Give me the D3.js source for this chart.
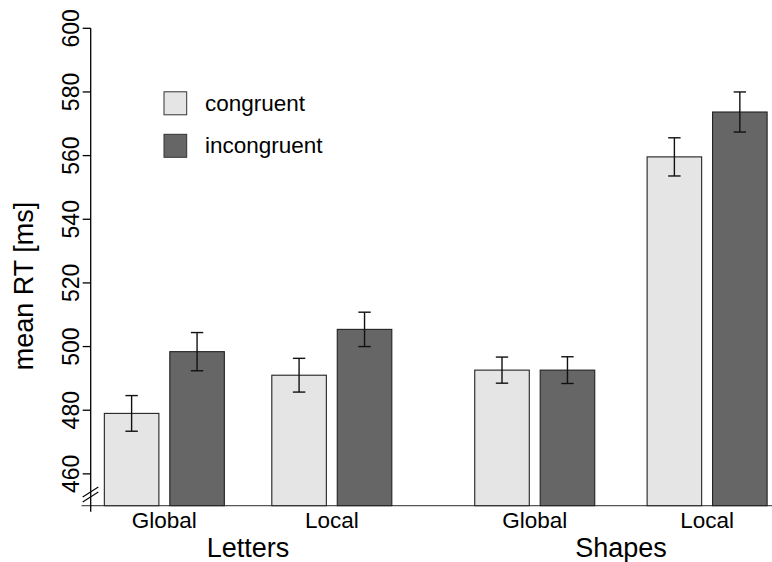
<!DOCTYPE html>
<html>
<head>
<meta charset="utf-8">
<script src="https://cdn.jsdelivr.net/npm/d3@7"></script>
<style>
  html, body { margin: 0; padding: 0; background: #fff; }
  svg text { font-family: "Liberation Sans", Arial, Helvetica, sans-serif; fill: #000; }
</style>
</head>
<body>
<svg id="chart" width="772" height="562"></svg>
<script>
// Mean reaction times per task, level and congruency
const blocks = ["Letters", "Shapes"];
const levels = ["Global", "Local", "Global", "Local"];
const conditions = ["congruent", "incongruent"];
const congruentRT = [479.0, 491.0, 492.6, 559.6];
const incongruentRT = [498.4, 505.4, 492.6, 573.7];
const congruentErr = [5.6, 5.3, 4.1, 6.0];
const incongruentErr = [6.0, 5.4, 4.2, 6.3];
const yTicks = [460, 480, 500, 520, 540, 560, 580, 600];

const colors = { congruent: "#e5e5e5", incongruent: "#666666" };

const svg = d3.select("#chart");

// y scale: axis is broken below 460, bars start from 450
const y = d3.scaleLinear().domain([450, 600]).range([505.7, 28.3]);

// x layout in bar-width units (barplot-like spacing)
const groupSpace = [0.25, 0.87, 1.52, 0.96];
const innerSpace = 0.2;
const bars = [];
let pos = 0;
levels.forEach((lv, i) => {
  pos += groupSpace[i];
  bars.push({ group: i, cond: "congruent", left: pos, value: congruentRT[i], err: congruentErr[i] });
  pos += 1 + innerSpace;
  bars.push({ group: i, cond: "incongruent", left: pos, value: incongruentRT[i], err: incongruentErr[i] });
  pos += 1;
});
const x = d3.scaleLinear().domain([0, 1]).range([90.7, 90.7 + 54.55]);
const bw = x(1) - x(0);

// baseline
svg.append("line")
  .attr("x1", 81.5).attr("x2", 772)
  .attr("y1", y(450)).attr("y2", y(450))
  .attr("stroke", "#555").attr("stroke-width", 1.3);

// bars
svg.append("g").selectAll("rect").data(bars).join("rect")
  .attr("x", d => x(d.left))
  .attr("y", d => y(d.value))
  .attr("width", bw)
  .attr("height", d => y(450) - y(d.value))
  .attr("fill", d => colors[d.cond])
  .attr("stroke", "#222")
  .attr("stroke-width", 1.1);

// error bars
const eg = svg.append("g").attr("stroke", "#111").attr("stroke-width", 1.4);
bars.forEach(d => {
  const cx = x(d.left + 0.5);
  eg.append("line").attr("x1", cx).attr("x2", cx).attr("y1", y(d.value - d.err)).attr("y2", y(d.value + d.err));
  [d.value - d.err, d.value + d.err].forEach(v => {
    eg.append("line").attr("x1", cx - 6.2).attr("x2", cx + 6.2).attr("y1", y(v)).attr("y2", y(v));
  });
});

// y axis
const ax = svg.append("g").attr("transform", "translate(90.7,0)");
ax.append("line").attr("x1", 0).attr("x2", 0).attr("y1", y(600)).attr("y2", 511.7)
  .attr("stroke", "#000").attr("stroke-width", 1.3);
yTicks.forEach(t => {
  ax.append("line").attr("x1", -8).attr("x2", 0).attr("y1", y(t)).attr("y2", y(t))
    .attr("stroke", "#000").attr("stroke-width", 1.3);
  ax.append("text")
    .attr("transform", `translate(-12,${y(t)}) rotate(-90)`)
    .attr("text-anchor", "middle")
    .attr("font-size", 23)
    .text(t);
});

// axis break marks
const bk = svg.append("g").attr("stroke", "#000").attr("stroke-width", 1.1);
[0, 5].forEach(off => {
  bk.append("line").attr("x1", 82.7).attr("y1", 497 + off).attr("x2", 98.3).attr("y2", 487 + off);
});

// y axis title
svg.append("text")
  .attr("transform", "translate(33,286) rotate(-90)")
  .attr("text-anchor", "middle")
  .attr("font-size", 27)
  .text("mean RT [ms]");

// level labels under each pair
levels.forEach((lv, i) => {
  const b0 = bars[i * 2], b1 = bars[i * 2 + 1];
  svg.append("text")
    .attr("x", (x(b0.left) + x(b1.left + 1)) / 2)
    .attr("y", 528.3)
    .attr("text-anchor", "middle")
    .attr("font-size", 22.5)
    .text(lv);
});

// block labels
blocks.forEach((bl, j) => {
  const first = bars[j * 4], last = bars[j * 4 + 3];
  svg.append("text")
    .attr("x", (x(first.left) + x(last.left + 1)) / 2)
    .attr("y", 556.5)
    .attr("text-anchor", "middle")
    .attr("font-size", 27)
    .text(bl);
});

// legend
const lg = svg.append("g");
conditions.forEach((c, i) => {
  const cy = 103.3 + i * 42.5;
  lg.append("rect")
    .attr("x", 164).attr("y", cy - 11.5).attr("width", 22.7).attr("height", 23)
    .attr("fill", colors[c]).attr("stroke", "#333").attr("stroke-width", 1);
  lg.append("text")
    .attr("x", 205).attr("y", cy + 7.5)
    .attr("font-size", 22.5)
    .text(c);
});
</script>
</body>
</html>
